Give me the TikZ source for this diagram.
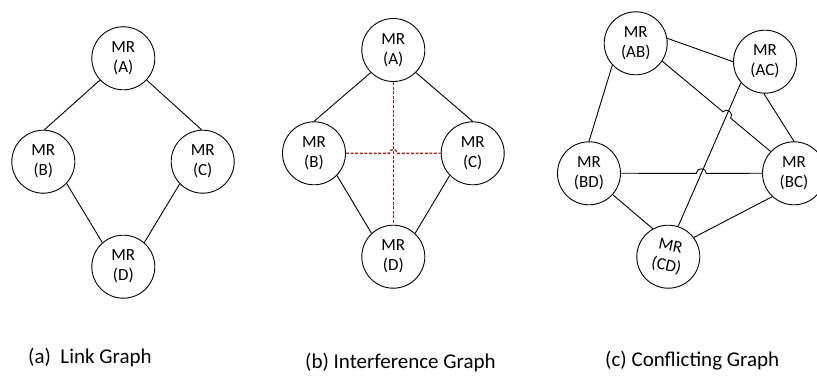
\documentclass[tikz,border=0pt]{standalone}
\usepackage{fontspec}
\setmainfont{Carlito}
\usetikzlibrary{calc,intersections}
\definecolor{dred}{RGB}{160,40,35}
\begin{document}
\begin{tikzpicture}[x=1pt,y=-1pt,
  mr/.style={circle,draw,line width=0.9pt,minimum size=63pt,inner sep=0pt,align=center,font=\fontsize{17}{20}\selectfont},
  edge/.style={line width=0.9pt},
  intf/.style={line width=1.4pt,draw=dred,dash pattern=on 3pt off 1.6pt},
  captxt/.style={anchor=base west,inner sep=0pt,font=\fontsize{21}{25}\selectfont}]
\useasboundingbox (0,0) rectangle (817,377);
\clip (0,0) rectangle (817,377);

% (a) Link graph
\node[mr] (a1) at (123.3,58.3) {MR\\(A)};
\node[mr] (b1) at (43.3,161.7) {MR\\(B)};
\node[mr] (c1) at (202.7,161.7) {MR\\(C)};
\node[mr] (d1) at (123.3,266.7) {MR\\(D)};
\draw[edge] (a1.223) -- (b1.88);
\draw[edge] (a1.-43) -- (c1.92);
\draw[edge] (b1.-43) -- (d1.131);
\draw[edge] (c1.224) -- (d1.49);

% (b) Interference graph
\node[mr] (a2) at (393.3,50) {MR\\(A)};
\node[mr] (b2) at (314,153.3) {MR\\(B)};
\node[mr] (c2) at (472.7,153.3) {MR\\(C)};
\node[mr] (d2) at (393.3,256.7) {MR\\(D)};
\draw[edge] (a2.225) -- (b2.90);
\draw[edge] (a2.-45) -- (c2.90);
\draw[edge] (b2.-44) -- (d2.133);
\draw[edge] (c2.224) -- (d2.47);
\draw[intf,name path=vad] (a2.-90) -- (d2.90);
\path[name path=hbc] (b2.0) -- (c2.180);
\path[name intersections={of=vad and hbc,by=x0}];
\coordinate (h0a) at ($(x0)!4pt!(b2.0)$);
\coordinate (h0b) at ($(x0)!4pt!(c2.180)$);
\draw[intf] (b2.0) -- (h0a) .. controls ($(h0a)!5pt!90:(x0)$) and ($(h0b)!5pt!-90:(x0)$) .. (h0b) -- (c2.180);

% (c) Conflicting graph
\node[mr] (ab) at (635.7,43.3) {MR\\(AB)};
\node[mr] (ac) at (765,61.7) {MR\\(AC)};
\node[mr] (bd) at (589,173.3) {MR\\(BD)};
\node[mr] (bc) at (794,173.3) {MR\\(BC)};
\node[mr,rotate=-12] (cd) at (668.3,256.7) {MR\\(CD)};

\draw[edge] (ab.9) -- (ac.180);
\draw[edge] (ab.223) -- (bd.90);
\draw[edge] (ac.-92) -- (bc.90);
\draw[edge,name path=acd] (ac.-139) -- (cd.84);
\draw[edge] (bd.-42) -- (cd.131);
\draw[edge] (bc.227) -- (cd.49);

\path[name path=abbc] (ab.-34) -- (bc.137);
\path[name intersections={of=acd and abbc,by=x2}];
\coordinate (h2a) at ($(x2)!5pt!(ab.-34)$);
\coordinate (h2b) at ($(x2)!5pt!(bc.137)$);
\draw[edge] (ab.-34) -- (h2a) .. controls ($(h2a)!6pt!90:(x2)$) and ($(h2b)!6pt!-90:(x2)$) .. (h2b) -- (bc.137);

\path[name path=bdbc] (bd.0) -- (bc.180);
\path[name intersections={of=acd and bdbc,by=x1}];
\coordinate (h1a) at ($(x1)!5pt!(bd.0)$);
\coordinate (h1b) at ($(x1)!5pt!(bc.180)$);
\draw[edge] (bd.0) -- (h1a) .. controls ($(h1a)!6pt!90:(x1)$) and ($(h1b)!6pt!-90:(x1)$) .. (h1b) -- (bc.180);

% captions
\node[captxt] (capa) at (28,363) {(a)~ Link Graph};
\node[captxt] (capb) at (305,368) {(b) Interference Graph};
\node[captxt] (capc) at (605,366.7) {(c) Conflicting Graph};
\end{tikzpicture}
\end{document}
